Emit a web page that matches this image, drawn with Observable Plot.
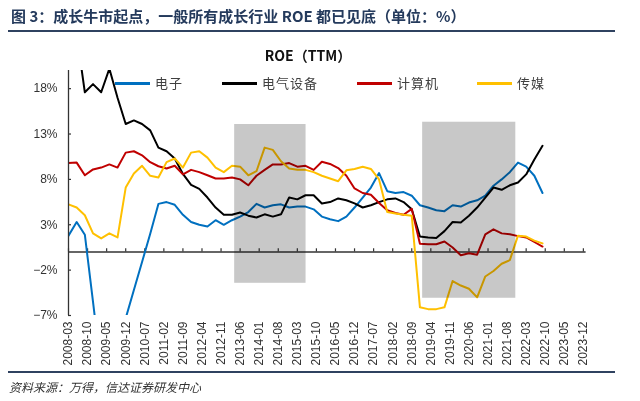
<!DOCTYPE html>
<html><head><meta charset="utf-8">
<script src="https://cdn.jsdelivr.net/npm/d3@7"></script>
<script src="https://cdn.jsdelivr.net/npm/@observablehq/plot@0.6"></script>
<style>
body{margin:0;background:#fff;}
#wrap{position:relative;width:640px;height:401px;overflow:hidden;background:#fff;font-family:"Noto Sans CJK SC","Noto Sans",sans-serif;}
#title{position:absolute;left:11px;top:5px;font-size:15px;font-weight:bold;color:#243a5c;white-space:nowrap;}
.rule{position:absolute;left:8px;width:607px;height:2px;background:#2f4260;}
#ctitle{position:absolute;left:258px;width:100px;text-align:center;top:45px;font-size:14px;font-weight:bold;color:#111;white-space:nowrap;}
#chart{position:absolute;left:0;top:0;}
#legend{position:absolute;left:0;top:74px;width:640px;height:20px;}
.li{position:absolute;top:0;height:20px;font-size:13px;color:#404040;white-space:nowrap;line-height:18px;}
.li span.sw{position:absolute;left:0;top:8px;width:35px;height:2.5px;}
.li span.tx{position:absolute;left:40px;top:0;letter-spacing:1px;}
#source{position:absolute;left:9px;top:378px;font-size:12px;font-style:italic;color:#333;white-space:nowrap;}
</style></head><body><div id="wrap">
<div id="title">图 3：成长牛市起点，一般所有成长行业 ROE 都已见底（单位：%）</div>
<div class="rule" style="top:30px"></div>
<div id="chart"></div>
<div id="ctitle">ROE（TTM）</div>
<div id="legend"></div>
<div class="rule" style="top:371px"></div>
<div id="source">资料来源：万得，信达证券研发中心</div>
</div>
<script>
const quarters = ["2008-03","2008-06","2008-09","2008-12","2009-03","2009-06","2009-09","2009-12",
"2010-03","2010-06","2010-09","2010-12","2011-03","2011-06","2011-09","2011-12",
"2012-03","2012-06","2012-09","2012-12","2013-03","2013-06","2013-09","2013-12",
"2014-03","2014-06","2014-09","2014-12","2015-03","2015-06","2015-09","2015-12",
"2016-03","2016-06","2016-09","2016-12","2017-03","2017-06","2017-09","2017-12",
"2018-03","2018-06","2018-09","2018-12","2019-03","2019-06","2019-09","2019-12",
"2020-03","2020-06","2020-09","2020-12","2021-03","2021-06","2021-09","2021-12",
"2022-03","2022-06","2022-09"];

const seriesNames = ["电子","电气设备","计算机","传媒"];
const seriesColors = ["#0070C0","#000000","#C00000","#FFC000"];

const electronics = [1.8,3.3,1.9,-5.5,-13,-15,-13,-7.3,-4.2,-1.1,2.0,5.3,5.5,5.2,4.1,3.3,3.0,2.8,3.5,3.0,
3.5,3.9,4.4,5.3,4.9,5.15,5.25,4.9,5.0,5.0,4.7,3.9,3.6,3.4,3.9,4.9,6.0,7.1,8.7,6.7,
6.5,6.6,6.2,5.15,4.9,4.6,4.5,5.15,5.0,5.45,5.7,6.2,7.3,8.0,8.8,9.85,9.4,8.4,6.5];
const electrical = [28,24,17.6,18.5,17.6,20.2,17.0,14.1,14.5,14.1,13.4,11.5,11.1,10.3,8.6,7.4,6.95,6.0,4.9,4.1,
4.1,4.35,4.0,3.8,4.15,3.9,4.15,6.0,5.8,6.25,6.25,5.35,5.5,5.9,5.7,5.35,4.9,5.15,5.5,5.8,
5.9,5.5,4.7,1.7,1.6,1.55,2.3,3.3,3.25,4.0,4.9,6.0,7.1,6.85,7.35,7.65,8.55,10.2,11.7];
const computer = [9.8,9.85,8.45,9.1,9.3,9.65,9.3,10.95,11.1,10.65,9.9,9.45,9.2,9.5,8.55,9.05,8.8,8.45,8.1,8.1,
8.2,8.0,7.35,8.4,9.05,9.65,9.65,9.8,9.4,9.5,9.05,9.95,9.7,9.25,8.4,7.0,6.5,6.3,5.4,4.6,
4.3,4.1,4.75,0.9,0.85,0.85,1.15,0.5,-0.35,-0.15,-0.3,1.95,2.5,2.05,1.95,1.75,1.6,1.1,0.6];
const media = [5.25,4.9,4.05,2.05,1.5,2.05,1.6,7.1,8.65,9.5,8.4,8.2,9.9,10.3,9.3,10.95,11.1,10.4,9.3,8.8,
9.5,9.4,8.45,8.9,11.5,11.25,10.0,9.2,9.05,9.05,8.8,8.4,8.1,7.8,9.0,9.15,9.4,9.15,8.0,4.4,
4.25,4.1,4.0,-6.1,-6.3,-6.3,-6.1,-3.2,-3.7,-4.05,-5.0,-2.7,-2.1,-1.3,-0.9,1.8,1.7,1.25,0.95];

const xTickLabels = ["2008-03","2008-10","2009-05","2009-12","2010-07","2011-02","2011-09","2012-04",
"2012-11","2013-06","2014-01","2014-08","2015-03","2015-10","2016-05","2016-12","2017-07","2018-02",
"2018-09","2019-04","2019-11","2020-06","2021-01","2021-08","2022-03","2022-10","2023-05","2023-12"];
const yTicks = [-7,-2,3,8,13,18];

// shaded periods
const shadeStart = ["2013-04","2019-01"];
const shadeEnd = ["2015-06","2021-11"];
const shadeTop = [14.05,14.3];
const shadeBottom = [-3.45,-5.1];

const monthIndex = s => { const [y,m] = s.split("-").map(Number); return (y-2008)*12 + (m-3); };

const allSeries = [electronics, electrical, computer, media];
const rows = [];
allSeries.forEach((vals, si) => vals.forEach((v, i) => rows.push({m: monthIndex(quarters[i]), v, s: seriesNames[si]})));
const shades = shadeStart.map((s, i) => ({x1: monthIndex(s), x2: monthIndex(shadeEnd[i]) + 0.2, y1: shadeBottom[i], y2: shadeTop[i]}));
const xTicks = xTickLabels.map(monthIndex);
const labelOf = new Map(xTicks.map((m, i) => [m, xTickLabels[i]]));

const axisColor = "#333";
const chart = Plot.plot({
  width: 640, height: 372,
  marginLeft: 68, marginRight: 54.4, marginTop: 70, marginBottom: 57,
  style: {fontFamily: "'Liberation Sans', Arial, sans-serif", fontSize: "12px", color: "#333", background: "transparent"},
  x: {type: "linear", domain: [0, 190], axis: null},
  y: {domain: [-7, 20], axis: null},
  color: {domain: seriesNames, range: seriesColors},
  marks: [
    Plot.ruleY([0], {x1: 0, x2: 190, stroke: axisColor, strokeWidth: 1.3}),
    Plot.ruleX(xTicks, {x: d => d, y1: 0, y2: 0.35, stroke: axisColor, strokeWidth: 1.2}),
    Plot.line(rows, {x: "m", y: "v", z: "s", stroke: "s", strokeWidth: 2, clip: true, strokeLinejoin: "round"}),
    Plot.rect(shades, {x1: "x1", x2: "x2", y1: "y1", y2: "y2", fill: "#c8c8c8", mixBlendMode: "multiply"}),
    Plot.ruleX([0], {y1: -7, y2: 20, stroke: axisColor, strokeWidth: 1.3}),
    Plot.ruleY(yTicks, {y: d => d, x1: 0, x2: 1.1, stroke: axisColor, strokeWidth: 1.2}),
    Plot.axisY({ticks: yTicks, tickSize: 0, tickPadding: 11, tickFormat: d => (d < 0 ? "\u2212" : "") + Math.abs(d) + "%", fontSize: 12}),
    Plot.axisX({ticks: xTicks, tickSize: 0, tickPadding: 6, tickRotate: -90, tickFormat: d => labelOf.get(d), fontSize: 12})
  ]
});
document.getElementById("chart").appendChild(chart);

// legend
const legendX = [115, 222, 357, 477];
const leg = document.getElementById("legend");
seriesNames.forEach((name, i) => {
  const d = document.createElement("div");
  d.className = "li";
  d.style.left = legendX[i] + "px";
  d.innerHTML = `<span class="sw" style="background:${seriesColors[i]}"></span><span class="tx">${name}</span>`;
  leg.appendChild(d);
});
</script>
</body></html>
